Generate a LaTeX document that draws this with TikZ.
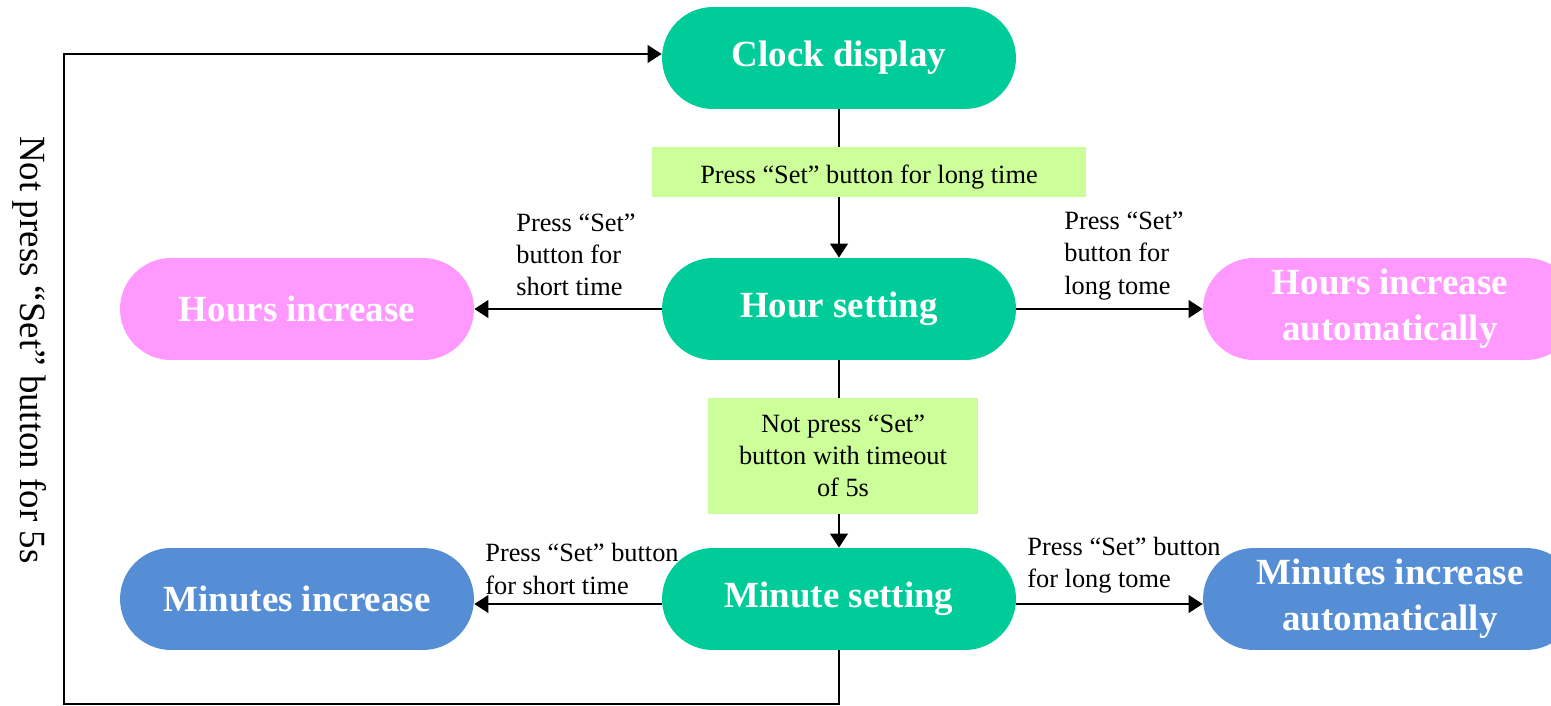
\documentclass[tikz,border=0pt]{standalone}
\usepackage{fontspec}
\setmainfont{Liberation Serif}
\usetikzlibrary{arrows.meta}
\definecolor{stategreen}{HTML}{00CC99}
\definecolor{hourpink}{HTML}{FF99FF}
\definecolor{minblue}{HTML}{558ED5}
\definecolor{notegreen}{HTML}{CCFF99}
\tikzset{
    state/.style={rectangle, rounded corners=1.02cm, minimum width=7.08cm, minimum height=2.04cm,
        text=white, align=center, font=\fontsize{21}{26}\selectfont\bfseries, inner sep=0pt},
    note/.style={rectangle, fill=notegreen, align=center, font=\fontsize{15}{18.4}\selectfont},
    edgetext/.style={anchor=west, align=left, inner sep=0pt, font=\fontsize{15}{18.4}\selectfont},
    arr/.style={line width=1.3pt, -{Triangle[length=8pt,width=10pt]}}
}
\begin{document}
\begin{tikzpicture}[x=0.02cm, y=-0.02cm]
    \useasboundingbox (0,0) rectangle (1551,706);

    % States in the middle column
    \node[state, fill=stategreen] (clock) at (839,58) {Clock display};
    \node[state, fill=stategreen] (hour) at (839,309) {Hour setting};
    \node[state, fill=stategreen] (minute) at (839,599) {Minute setting};

    % Hour states
    \node[state, fill=hourpink] (hinc) at (297,309) {Hours increase};
    \node[state, fill=hourpink, minimum width=7.48cm] (hauto) at (1390,309) {Hours increase\\automatically};

    % Minute states
    \node[state, fill=minblue] (minc) at (297,599) {Minutes increase};
    \node[state, fill=minblue, minimum width=7.48cm] (mauto) at (1390,599) {Minutes increase\\automatically};

    % Down the middle
    \draw[arr] (clock) -- (hour);
    \draw[arr] (hour) -- (minute);
    \node[note, minimum width=8.68cm, minimum height=1.02cm, text height=12.6pt, text depth=0pt] (longpress) at (869,172) {Press “Set” button for long time};
    \node[note, minimum width=5.42cm, minimum height=2.32cm] (timeout) at (843,456) {Not press “Set”\\button with timeout\\of 5s};

    % Hour branches
    \draw[arr] (hour.west) -- (hinc.east);
    \draw[arr] (hour.east) -- (hauto.west);
    \node[edgetext] (hshort) at (516,255) {Press “Set”\\button for\\short time};
    \node[edgetext] (hlong) at (1064,256) {Press “Set”\\button for\\long tome};

    % Minute branches
    \draw[arr] ([yshift=-0.1cm]minute.west) -- ([yshift=-0.1cm]minc.east);
    \draw[arr] ([yshift=-0.1cm]minute.east) -- ([yshift=-0.1cm]mauto.west);
    \node[edgetext] (mshort) at (485,569) {Press “Set” button\\for short time};
    \node[edgetext] (mlong) at (1027,565) {Press “Set” button\\for long tome};

    % Back to the clock
    \coordinate (loopbl) at (64,704);
    \draw[arr] (minute.south) |- (loopbl) |- ([yshift=0.08cm]clock.west);
    \node[rotate=-90, font=\fontsize{21}{25}\selectfont] (backtext) at (30,350) {Not press “Set” button for 5s};
\end{tikzpicture}
\end{document}
